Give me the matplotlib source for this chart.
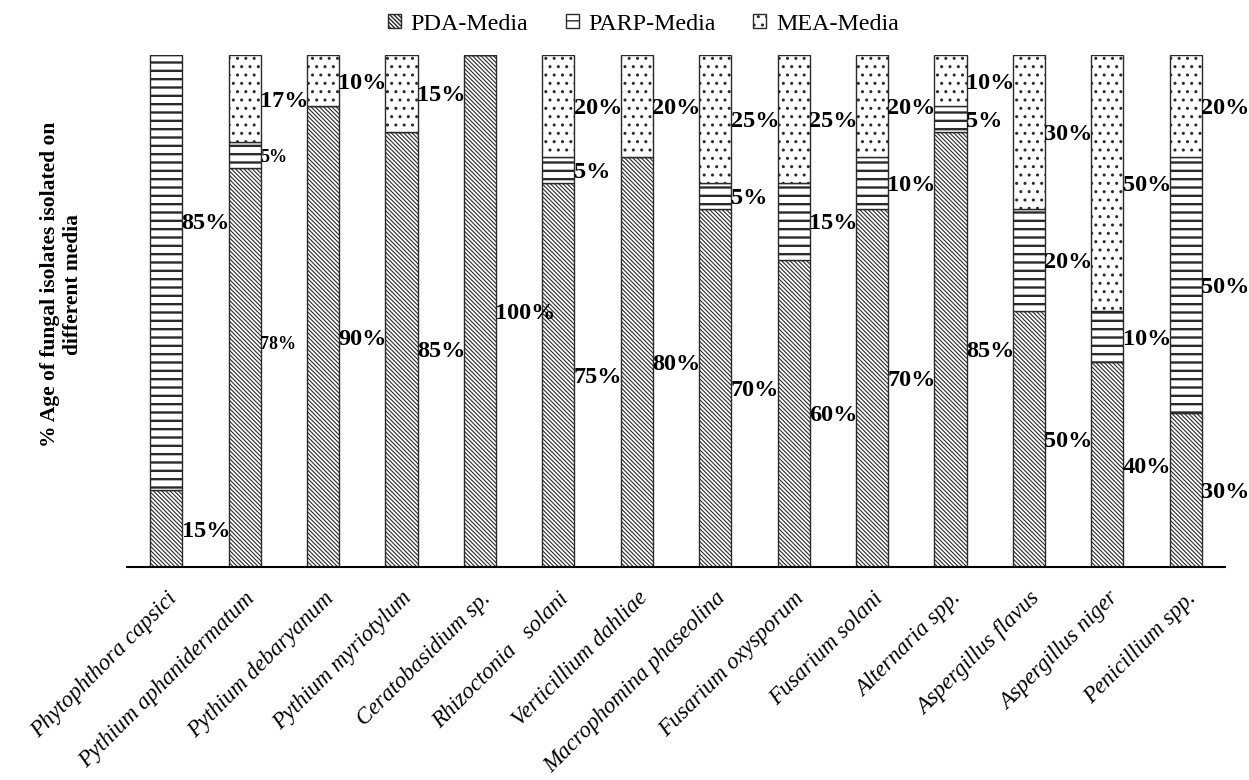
import numpy as np
import matplotlib
matplotlib.use("Agg")
import matplotlib.pyplot as plt

# fungal isolates and % recovered on each medium
categories = ['Phytophthora capsici', 'Pythium aphanidermatum', 'Pythium debaryanum',
              'Pythium myriotylum', 'Ceratobasidium sp.', 'Rhizoctonia   solani',
              'Verticillium dahliae', 'Macrophomina phaseolina', 'Fusarium oxysporum',
              'Fusarium solani', 'Alternaria spp.', 'Aspergillus flavus',
              'Aspergillus niger', 'Penicillium spp.']
pda = [15, 78, 90, 85, 100, 75, 80, 70, 60, 70, 85, 50, 40, 30]
parp = [85, 5, 0, 0, 0, 5, 0, 5, 15, 10, 5, 20, 10, 50]
mea = [0, 17, 10, 15, 0, 20, 20, 25, 25, 20, 10, 30, 50, 20]
series_names = ['PDA-Media', 'PARP-Media', 'MEA-Media']

plt.rcParams['font.family'] = ['Liberation Serif', 'DejaVu Serif']

fig = plt.figure(figsize=(12.49, 7.8), dpi=100)
ax = fig.add_axes([0.1017, 0.2731, 0.8791, 0.6564])

x = np.arange(len(categories))
width = 0.41
hatches = ['\\' * 8, '--', '..']
hatch_lw = [0.8, 1.7, 1.0]

bottom = np.zeros(len(categories))
containers = []
for vals, name, h, hlw in zip([pda, parp, mea], series_names, hatches, hatch_lw):
    vals = np.array(vals, dtype=float)
    with plt.rc_context({'hatch.linewidth': hlw}):
        bars = ax.bar(x, vals, width, bottom=bottom, color='white', edgecolor='#2a2a2a',
                      linewidth=1.0, hatch=h, label=name)
    for b in bars:
        if hasattr(b, 'set_hatch_linewidth'):
            b.set_hatch_linewidth(hlw)
    containers.append((bars, vals, bottom.copy()))
    bottom += vals

# data labels to the right of each bar, near segment centre
nudge = {(0, 1): 10.0, (1, 0): 5.0, (9, 0): 2.0}
small = {(1, 0), (1, 1)}
for s, (bars, vals, base) in enumerate(containers):
    for i, v in enumerate(vals):
        if v <= 0:
            continue
        yc = base[i] + v / 2 - 0.5 + nudge.get((i, s), 0)
        ax.text(x[i] + width / 2 - 0.01, yc, f'{int(v)}%', ha='left', va='center',
                fontsize=13 if (i, s) in small else 17.5, fontweight='bold')

ax.set_xlim(-0.5, 13.5)
ax.set_ylim(0, 100)
ax.set_yticks([])
for side in ['left', 'right', 'top']:
    ax.spines[side].set_visible(False)
ax.spines['bottom'].set_linewidth(1.5)
ax.spines['bottom'].set_color('black')

ax.set_xticks(x)
ax.set_xticklabels(categories, rotation=45, ha='right', va='top', rotation_mode='anchor',
                   fontsize=16.5, fontstyle='italic')
ax.tick_params(axis='x', length=0, pad=15)

fig.text(0.049, 1 - 284 / 780, '% Age of fungal isolates isolated on\ndifferent media',
         rotation=90, ha='center', va='center', multialignment='center',
         fontsize=15.5, fontweight='bold')

fig.legend(loc='center', bbox_to_anchor=(0.515, 0.969), ncol=3, frameon=False,
           fontsize=17.3, handlelength=0.55, handleheight=0.55, handletextpad=0.4,
           columnspacing=1.55)

fig.savefig('out.png', dpi=100)
